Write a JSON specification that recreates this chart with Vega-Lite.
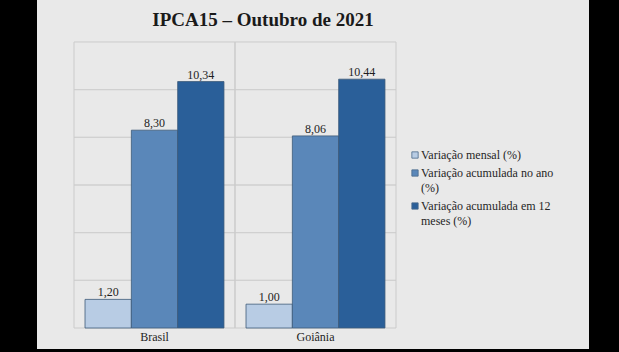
{
  "$schema": "https://vega.github.io/schema/vega-lite/v6.json",
  "width": 552,
  "height": 349,
  "autosize": {"type": "none"},
  "padding": {"left": 37, "top": 0, "right": 30, "bottom": 3},
  "background": "#000000",
  "config": {
    "view": {"fill": "#e9e9e9", "stroke": null},
    "locale": {"number": {"decimal": ",", "thousands": ".", "grouping": [3], "currency": ["R$ ", ""]}},
    "font": "Liberation Serif"
  },
  "title": {
    "text": "IPCA15 – Outubro de 2021",
    "font": "Liberation Serif",
    "fontSize": 19,
    "fontWeight": "bold",
    "color": "#1a1a1a",
    "anchor": "middle",
    "frame": "group",
    "baseline": "alphabetic",
    "offset": -45,
    "dx": -50
  },
  "datasets": {
    "valores": [
      {"local": "Brasil", "serie": "Variação mensal (%)", "valor": 1.20},
      {"local": "Brasil", "serie": "Variação acumulada no ano (%)", "valor": 8.30},
      {"local": "Brasil", "serie": "Variação acumulada em 12 meses (%)", "valor": 10.34},
      {"local": "Goiânia", "serie": "Variação mensal (%)", "valor": 1.00},
      {"local": "Goiânia", "serie": "Variação acumulada no ano (%)", "valor": 8.06},
      {"local": "Goiânia", "serie": "Variação acumulada em 12 meses (%)", "valor": 10.44}
    ],
    "grade": [
      {"local": "Brasil", "v": 2}, {"local": "Brasil", "v": 4}, {"local": "Brasil", "v": 6},
      {"local": "Brasil", "v": 8}, {"local": "Brasil", "v": 10},
      {"local": "Goiânia", "v": 2}, {"local": "Goiânia", "v": 4}, {"local": "Goiânia", "v": 6},
      {"local": "Goiânia", "v": 8}, {"local": "Goiânia", "v": 10}
    ],
    "locais": [{"local": "Brasil"}, {"local": "Goiânia"}]
  },
  "encoding": {
    "x": {
      "field": "local",
      "type": "nominal",
      "sort": ["Brasil", "Goiânia"],
      "scale": {"domain": ["Brasil", "Goiânia"], "paddingInner": 0, "paddingOuter": 0.7143, "align": 0.1609},
      "axis": {
        "orient": "bottom",
        "offset": -21,
        "domain": false,
        "ticks": false,
        "grid": false,
        "labelPadding": 3,
        "labelAngle": 0,
        "labelFont": "Liberation Serif",
        "labelFontSize": 12,
        "labelColor": "#1e1e1e",
        "title": null
      }
    }
  },
  "layer": [
    {
      "data": {"name": "grade"},
      "mark": {"type": "rect", "fill": "transparent", "stroke": "#d0d0d0", "strokeWidth": 1},
      "encoding": {
        "y": {"field": "v", "type": "quantitative", "scale": {"domain": [-0.881, 13.762], "nice": false, "zero": false}, "axis": null},
        "y2": {"field": "v"}
      }
    },
    {
      "data": {"name": "locais"},
      "mark": {"type": "rect", "fill": "transparent", "stroke": "#cbcbcb", "strokeWidth": 1},
      "encoding": {
        "y": {"datum": 12, "type": "quantitative", "scale": {"domain": [-0.881, 13.762], "nice": false, "zero": false}, "axis": null},
        "y2": {"datum": 0}
      }
    },
    {
      "data": {"name": "valores"},
      "mark": {"type": "bar", "stroke": "#3d5a78", "strokeWidth": 0.8},
      "encoding": {
        "xOffset": {
          "field": "serie",
          "type": "nominal",
          "scale": {"domain": ["Variação mensal (%)", "Variação acumulada no ano (%)", "Variação acumulada em 12 meses (%)"], "paddingInner": 0, "paddingOuter": 0.238}
        },
        "y": {"field": "valor", "type": "quantitative", "scale": {"domain": [-0.881, 13.762], "nice": false, "zero": false}, "axis": null},
        "color": {
          "field": "serie",
          "type": "nominal",
          "scale": {
            "domain": ["Variação mensal (%)", "Variação acumulada no ano (%)", "Variação acumulada em 12 meses (%)"],
            "range": ["#b8cce4", "#5a87b9", "#2a5f99"]
          },
          "legend": {
            "orient": "none",
            "legendX": 372,
            "legendY": 149,
            "title": null,
            "padding": 0,
            "labelFont": "Liberation Serif",
            "labelFontSize": 12,
            "labelColor": "#262626",
            "labelLimit": 300,
            "labelOffset": 0,
            "labelBaseline": "alphabetic",
            "symbolType": "square",
            "symbolSize": 40,
            "symbolStrokeColor": "#4a6a8a",
            "symbolStrokeWidth": 0.8,
            "rowPadding": 6,
            "labelExpr": "datum.label == 'Variação acumulada no ano (%)' ? ['Variação acumulada no ano', '(%)'] : datum.label == 'Variação acumulada em 12 meses (%)' ? ['Variação acumulada em 12', 'meses (%)'] : datum.label",
            "encode": {"labels": {"update": {"dy": {"value": 4}, "lineHeight": {"value": 15}, "font": {"value": "Liberation Serif"}, "fontSize": {"value": 12}}}}
          }
        }
      }
    },
    {
      "data": {"name": "valores"},
      "mark": {"type": "text", "baseline": "alphabetic", "dy": -3, "font": "Liberation Serif", "fontSize": 12, "color": "#1e1e1e"},
      "encoding": {
        "xOffset": {
          "field": "serie",
          "type": "nominal",
          "scale": {"domain": ["Variação mensal (%)", "Variação acumulada no ano (%)", "Variação acumulada em 12 meses (%)"], "paddingInner": 0, "paddingOuter": 0.238}
        },
        "y": {"field": "valor", "type": "quantitative", "scale": {"domain": [-0.881, 13.762], "nice": false, "zero": false}, "axis": null},
        "text": {"field": "valor", "type": "quantitative", "format": ".2f"}
      }
    }
  ]
}
